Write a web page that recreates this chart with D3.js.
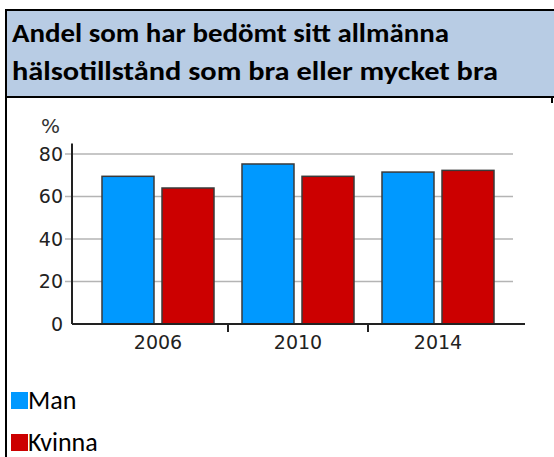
<!DOCTYPE html>
<html>
<head>
<meta charset="utf-8">
<script src="https://cdn.jsdelivr.net/npm/d3@7"></script>
<style>
  html, body { margin: 0; padding: 0; background: #fff; }
  svg { display: block; }
</style>
</head>
<body>
<div id="chart"></div>
<script>
// data
var titleLines = ['Andel som har bedömt sitt allmänna', 'hälsotillstånd som bra eller mycket bra'];
var years = ['2006', '2010', '2014'];
var series = ['Man', 'Kvinna'];
var manValues = [69.5, 75.3, 71.5];
var kvinnaValues = [64, 69.5, 72.3];
var yTicks = [0, 20, 40, 60, 80];
var colors = ['#0099ff', '#cc0000'];

var width = 554, height = 457;

var svg = d3.select('#chart').append('svg')
  .attr('width', width)
  .attr('height', height);

// header cell
svg.append('rect')
  .attr('x', 6).attr('y', 10)
  .attr('width', width - 6).attr('height', 87)
  .attr('fill', '#b8cce4');

svg.append('line')
  .attr('x1', 6).attr('x2', width).attr('y1', 10).attr('y2', 10)
  .attr('stroke', '#000').attr('stroke-width', 2);
svg.append('line')
  .attr('x1', 6).attr('x2', width).attr('y1', 97).attr('y2', 97)
  .attr('stroke', '#000').attr('stroke-width', 2);
svg.append('line')
  .attr('x1', 6).attr('x2', 6).attr('y1', 9).attr('y2', height)
  .attr('stroke', '#000').attr('stroke-width', 2);
svg.append('line')
  .attr('x1', 552).attr('x2', 552).attr('y1', 97).attr('y2', 103)
  .attr('stroke', '#000').attr('stroke-width', 2);

var titleWidths = [437, 486];
svg.selectAll('text.title')
  .data(titleLines)
  .enter().append('text')
  .attr('class', 'title')
  .attr('x', 12)
  .attr('y', function (d, i) { return 42 + i * 38; })
  .attr('textLength', function (d, i) { return titleWidths[i]; })
  .attr('lengthAdjust', 'spacingAndGlyphs')
  .style('font-family', "Carlito, Calibri, 'Open Sans', sans-serif")
  .style('font-weight', 'bold')
  .style('font-size', '27px')
  .style('fill', '#000')
  .text(function (d) { return d; });

// chart
var y = d3.scaleLinear().domain([0, 80]).range([324, 154]);
var x0 = d3.scaleBand().domain(years).range([88, 508]);
var x1 = d3.scaleBand().domain(series).range([0, x0.bandwidth()])
  .paddingInner(8 / 60).paddingOuter(0.2333);

var chartFont = "'DejaVu Sans', Verdana, sans-serif";

// gridlines
svg.selectAll('line.grid')
  .data(yTicks.filter(function (d) { return d > 0; }))
  .enter().append('line')
  .attr('class', 'grid')
  .attr('x1', 65).attr('x2', 513)
  .attr('y1', function (d) { return y(d); })
  .attr('y2', function (d) { return y(d); })
  .attr('stroke', '#b4b4b4')
  .attr('stroke-width', 1.5);

// y labels
svg.selectAll('text.ylab')
  .data(yTicks)
  .enter().append('text')
  .attr('class', 'ylab')
  .attr('x', 63)
  .attr('y', function (d) { return y(d); })
  .attr('dy', '0.36em')
  .attr('text-anchor', 'end')
  .style('font-family', chartFont)
  .style('font-size', '19px')
  .style('fill', '#222')
  .text(function (d) { return d; });

svg.append('text')
  .attr('x', 41).attr('y', 133)
  .style('font-family', chartFont)
  .style('font-size', '20px')
  .style('fill', '#333')
  .text('%');

// bars
var rows = years.map(function (yr, i) {
  return { year: yr, values: [manValues[i], kvinnaValues[i]] };
});

var groups = svg.selectAll('g.group')
  .data(rows)
  .enter().append('g')
  .attr('class', 'group')
  .attr('transform', function (d) { return 'translate(' + x0(d.year) + ',0)'; });

groups.selectAll('rect')
  .data(function (d) {
    return d.values.map(function (v, i) { return { key: series[i], value: v, idx: i }; });
  })
  .enter().append('rect')
  .attr('x', function (d) { return x1(d.key); })
  .attr('y', function (d) { return y(d.value); })
  .attr('width', x1.bandwidth())
  .attr('height', function (d) { return y(0) - y(d.value); })
  .attr('fill', function (d) { return colors[d.idx]; })
  .attr('stroke', '#3a3a3a')
  .attr('stroke-width', 1.5);

// axes
svg.append('line')
  .attr('x1', 72).attr('x2', 72)
  .attr('y1', y(85)).attr('y2', y(0))
  .attr('stroke', '#222').attr('stroke-width', 2);
svg.append('line')
  .attr('x1', 72).attr('x2', 525)
  .attr('y1', y(0)).attr('y2', y(0))
  .attr('stroke', '#222').attr('stroke-width', 2);

// x ticks between groups
svg.selectAll('line.xtick')
  .data(years.slice(1))
  .enter().append('line')
  .attr('class', 'xtick')
  .attr('x1', function (d) { return x0(d); })
  .attr('x2', function (d) { return x0(d); })
  .attr('y1', y(0)).attr('y2', y(0) + 8)
  .attr('stroke', '#222').attr('stroke-width', 2);

svg.selectAll('text.xlab')
  .data(years)
  .enter().append('text')
  .attr('class', 'xlab')
  .attr('x', function (d) { return x0(d) + x0.bandwidth() / 2; })
  .attr('y', 349)
  .attr('text-anchor', 'middle')
  .style('font-family', chartFont)
  .style('font-size', '19px')
  .style('fill', '#222')
  .text(function (d) { return d; });

// legend
var legend = svg.selectAll('g.legend')
  .data(series)
  .enter().append('g')
  .attr('class', 'legend')
  .attr('transform', function (d, i) { return 'translate(11,' + (392 + i * 42) + ')'; });

legend.append('rect')
  .attr('width', 17).attr('height', 17)
  .attr('fill', function (d, i) { return colors[i]; });

legend.append('text')
  .attr('x', 17).attr('y', 17)
  .style('font-family', "Carlito, Calibri, 'Open Sans', sans-serif")
  .style('font-size', '26px')
  .style('fill', '#000')
  .text(function (d) { return d; });
</script>
</body>
</html>
